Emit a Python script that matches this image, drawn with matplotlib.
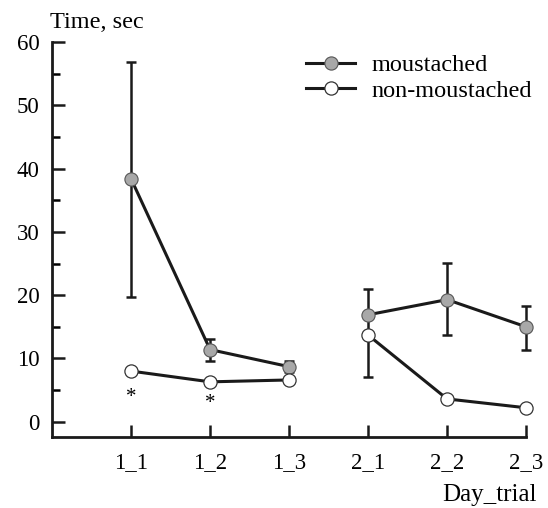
import numpy as np
import matplotlib
matplotlib.use("Agg")
import matplotlib.pyplot as plt
from matplotlib.ticker import MultipleLocator

plt.rcParams['font.family'] = ['Liberation Serif', 'DejaVu Serif']

# datos
etiquetas = ["1_1", "1_2", "1_3", "2_1", "2_2", "2_3"]
con_bigote = [38.4, 11.4, 8.7, 16.9, 19.3, 15.0]
err_arriba = [18.5, 1.7, 0.9, 4.1, 5.8, 3.3]
err_abajo = [18.7, 1.8, 0.9, 9.9, 5.6, 3.6]
sin_bigote = [8.0, 6.3, 6.6, 13.7, 3.6, 2.2]
asteriscos_x = ["1_1", "1_2"]
asteriscos_y = [3.9, 2.8]

x = np.arange(1, len(etiquetas) + 1)

fig = plt.figure(figsize=(5.48, 5.08), dpi=100)
ax = fig.add_axes([0.095, 0.14, 0.865, 0.777])

# parte del dia 1 y del dia 2 por separado
for tramo in [slice(0, 3), slice(3, 6)]:
    ax.errorbar(x[tramo], con_bigote[tramo],
                yerr=[err_abajo[tramo], err_arriba[tramo]],
                fmt="none", ecolor="#1a1a1a", elinewidth=1.8, capsize=3.6,
                capthick=1.8, zorder=2, clip_on=False)
    ax.plot(x[tramo], con_bigote[tramo], "-o", color="#1a1a1a", lw=2.2,
            ms=9.5, mfc="#a8a8a8", mec="#555555", mew=0.8, zorder=3,
            clip_on=False,
            label="moustached" if tramo.start == 0 else None)
    ax.plot(x[tramo], sin_bigote[tramo], "-o", color="#1a1a1a", lw=2.2,
            ms=9.5, mfc="white", mec="#333333", mew=0.9, zorder=3,
            clip_on=False,
            label="non-moustached" if tramo.start == 0 else None)

for et, yy in zip(asteriscos_x, asteriscos_y):
    ax.text(etiquetas.index(et) + 1, yy, "*", ha="center", va="center",
            fontsize=15)

ax.set_xlim(0, 6)
ax.set_ylim(-2.4, 60)
ax.set_xticks(x)
ax.set_xticklabels(etiquetas)
ax.yaxis.set_major_locator(MultipleLocator(10))
ax.yaxis.set_minor_locator(MultipleLocator(5))
ax.tick_params(axis="both", direction="in", labelsize=16.5, width=1.8,
               color="#1a1a1a")
ax.tick_params(axis="y", which="major", length=9, pad=9)
ax.tick_params(axis="y", which="minor", length=6, width=1.8, direction="in")
ax.tick_params(axis="x", which="major", length=9, pad=11)

for lado in ["top", "right"]:
    ax.spines[lado].set_visible(False)
for lado in ["left", "bottom"]:
    ax.spines[lado].set_linewidth(2)
    ax.spines[lado].set_color("#1a1a1a")

fig.text(0.092, 0.955, "Time, sec", fontsize=17.5, ha="left", va="center")
fig.text(0.98, 0.025, "Day_trial", fontsize=18, ha="right", va="center")

ax.legend(loc="upper left", bbox_to_anchor=(0.49, 1.025), frameon=False,
          fontsize=17.5, handlelength=2.0, labelspacing=0.15,
          handletextpad=0.7)

fig.savefig("out.png", dpi=100)
